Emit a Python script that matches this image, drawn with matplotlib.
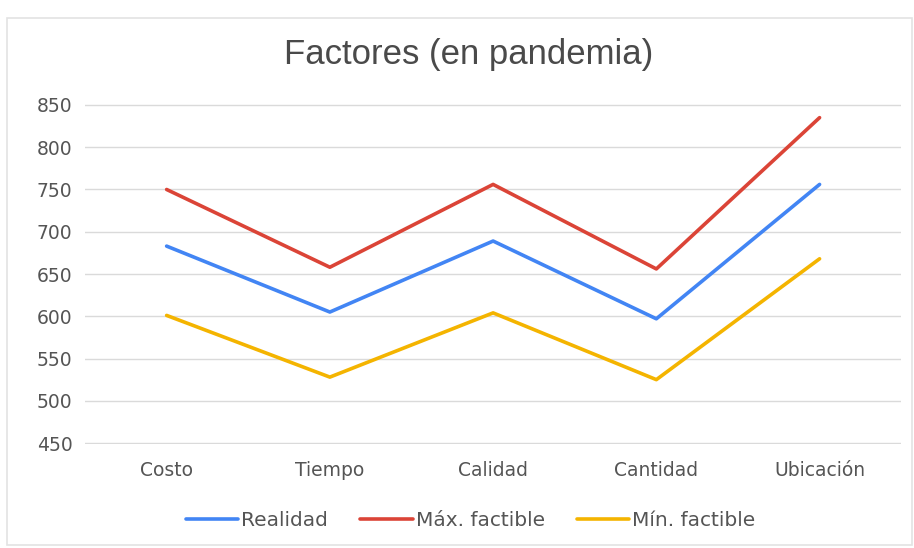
import matplotlib.pyplot as plt
from matplotlib.patches import Rectangle

plt.rcParams['font.family'] = ['DejaVu Sans']

categorias = ['Costo', 'Tiempo', 'Calidad', 'Cantidad', 'Ubicación']
realidad = [683, 605, 689, 597, 756]
max_factible = [750, 658, 756, 656, 835]
min_factible = [601, 528, 604, 525, 668]
yticks = [450, 500, 550, 600, 650, 700, 750, 800, 850]

texto = '#555555'

fig = plt.figure(figsize=(9.14, 5.48), dpi=100)
ax = fig.add_axes([0.093, 0.19, 0.893, 0.62])

# marco claro alrededor del grafico
fig.patches.append(Rectangle((0.008, 0.005), 0.99, 0.962, transform=fig.transFigure,
                             fill=False, edgecolor='#e3e3e3', linewidth=1.2))

x = range(len(categorias))
ax.plot(x, realidad, color='#4285F4', linewidth=2.6, label='Realidad', solid_capstyle='round')
ax.plot(x, max_factible, color='#DB4437', linewidth=2.6, label='Máx. factible', solid_capstyle='round')
ax.plot(x, min_factible, color='#F4B400', linewidth=2.6, label='Mín. factible', solid_capstyle='round')

ax.set_xlim(-0.5, len(categorias) - 0.5)
ax.set_ylim(449, 851)
ax.set_yticks(yticks)
ax.set_xticks(list(x))
ax.set_xticklabels(categorias)
ax.tick_params(axis='both', length=0, labelsize=13.5, labelcolor=texto)
ax.tick_params(axis='x', pad=12)
ax.tick_params(axis='y', pad=9)
ax.grid(axis='y', color='#dadada', linewidth=1)
ax.set_axisbelow(True)
for s in ax.spines.values():
    s.set_visible(False)

fig.text(0.513, 0.9, 'Factores (en pandemia)', ha='center', va='center', fontsize=25,
         color='#4a4a4a', family=['Liberation Sans', 'DejaVu Sans'])

fig.legend(loc='center', bbox_to_anchor=(0.515, 0.05), ncol=3, frameon=False,
           fontsize=14.5, handlelength=2.6, handletextpad=0.15, columnspacing=1.6,
           labelcolor=texto)

fig.savefig('out.png', dpi=100)
